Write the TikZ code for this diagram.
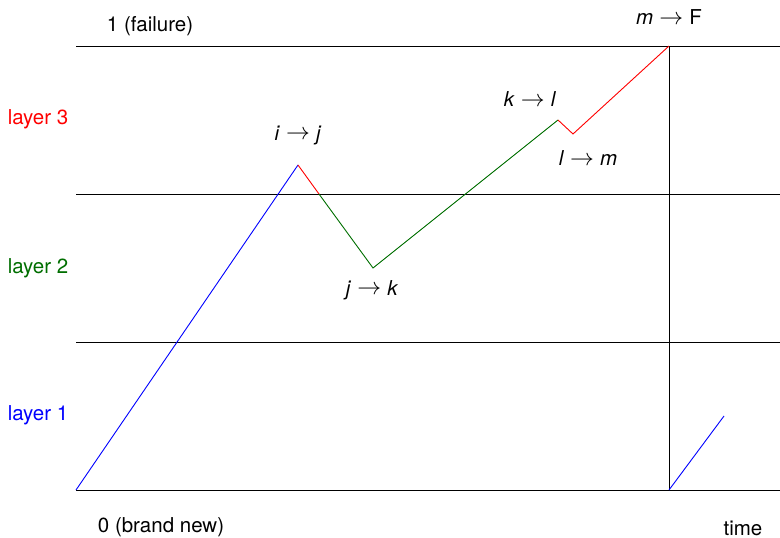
\documentclass[tikz,border=0pt]{standalone}
\usepackage{fontspec}
\setmainfont{TeX Gyre Heros}
\begin{document}
\begin{tikzpicture}[x=1pt,y=-1pt,
  lbl/.style={font=\fontsize{20.5}{24}\selectfont, inner sep=0pt},
  grid/.style={line width=0.9pt, black},
  seg/.style={line width=0.9pt}]
\definecolor{dgreen}{RGB}{0,110,0}
\newcommand{\arr}{\hspace{0.3em}\raisebox{0.02em}{\scalebox{1.15}{$\rightarrow$}}\hspace{0.3em}}
\useasboundingbox (0,0) rectangle (780,538);
% layer boundaries
\coordinate (t0) at (76,46); \coordinate (t1) at (780,46);
\coordinate (u0) at (76,194); \coordinate (u1) at (780,194);
\coordinate (v0) at (76,342); \coordinate (v1) at (780,342);
\coordinate (w0) at (76,490); \coordinate (w1) at (780,490);
\draw[grid] (t0) -- (t1);
\draw[grid] (u0) -- (u1);
\draw[grid] (v0) -- (v1);
\draw[grid] (w0) -- (w1);
% path points
\coordinate (p0) at (76,490);
\coordinate (pij) at (298,165);
\coordinate (pb) at (319,194);
\coordinate (pjk) at (373,268);
\coordinate (pkl) at (558,120);
\coordinate (plm) at (573,134);
\coordinate (pF) at (669,46);
\coordinate (q0) at (669,490);
\coordinate (q1) at (724,416);
\draw[grid] (pF) -- (q0);
\draw[seg, blue] (p0) -- (pij);
\draw[seg, red] (pij) -- (pb);
\draw[seg, dgreen] (pb) -- (pjk) -- (pkl);
\draw[seg, red] (pkl) -- (plm) -- (pF);
\draw[seg, blue] (q0) -- (q1);
% labels
\node[lbl] (fail) at (150,26) {1 (failure)};
\node[lbl] (new) at (161,527) {0 (brand new)};
\node[lbl] (time) at (743,528) {time};
\node[lbl, red] (l3) at (38,119) {layer 3};
\node[lbl, dgreen] (l2) at (38,268) {layer 2};
\node[lbl, blue] (l1) at (38,415) {layer 1};
\node[lbl] (ij) at (298,135) {\textit{i}\arr\textit{j}};
\node[lbl] (jk) at (372,290) {\textit{j}\arr\textit{k}};
\node[lbl] (kl) at (530,99) {\textit{k}\arr\textit{l}};
\node[lbl] (lm) at (588,158) {\textit{l}\arr\textit{m}};
\node[lbl] (mF) at (669,17) {\textit{m}\arr F};
\end{tikzpicture}
\end{document}
